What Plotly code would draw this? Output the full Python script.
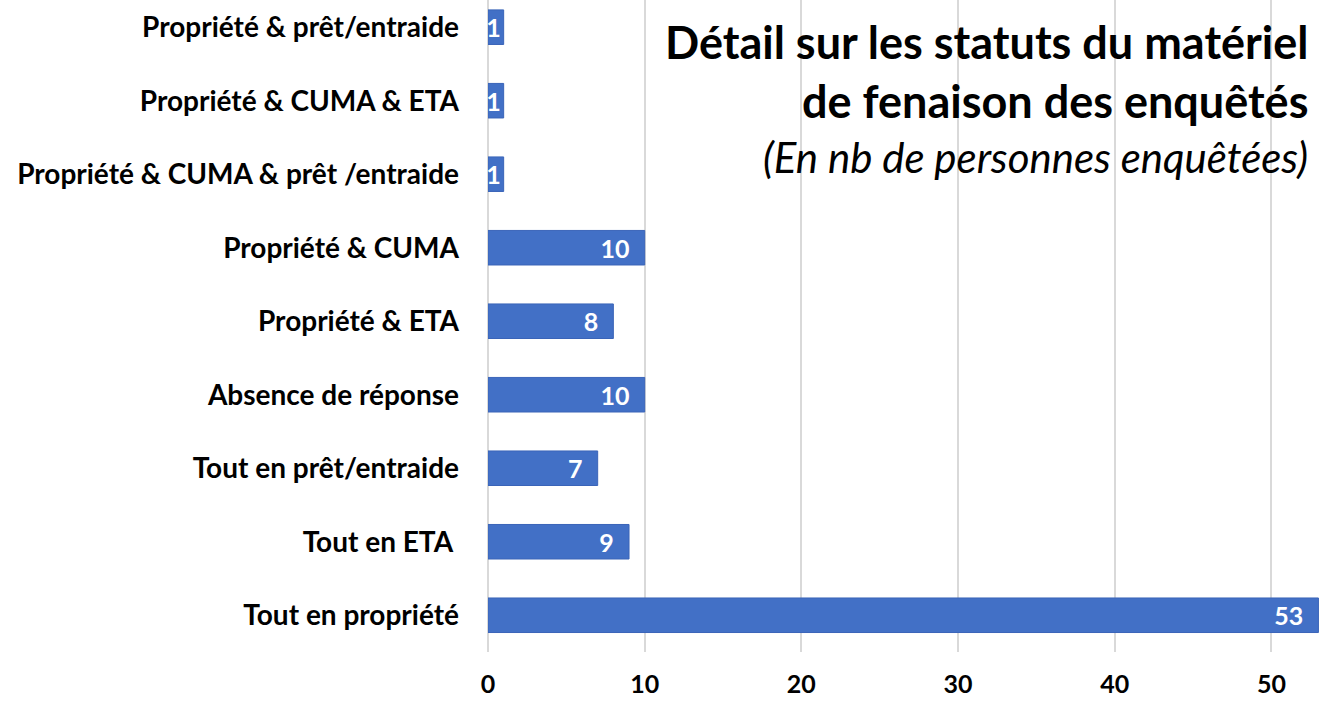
import plotly.graph_objects as go

categories = [
    "Tout en propriété",
    "Tout en ETA ",
    "Tout en prêt/entraide",
    "Absence de réponse",
    "Propriété & ETA",
    "Propriété & CUMA",
    "Propriété & CUMA & prêt /entraide",
    "Propriété & CUMA & ETA",
    "Propriété & prêt/entraide",
]
values = [53, 9, 7, 10, 8, 10, 1, 1, 1]
x_ticks = [0, 10, 20, 30, 40, 50]

FONT = "Lato"
labels = [f"{v}  " if v >= 5 else f"{v}" for v in values]

fig = go.Figure()
fig.add_trace(go.Bar(
    y=categories,
    x=values,
    orientation="h",
    width=0.47,
    marker=dict(color="#4270C6", line=dict(color="#3A64B8", width=1)),
    text=labels,
    textposition="inside",
    insidetextanchor="end",
    textangle=0,
    constraintext="none",
    textfont=dict(family=FONT, size=25, color="white", weight="bold"),
    cliponaxis=False,
    hoverinfo="x+y",
))

fig.add_annotation(
    xref="paper", yref="paper", x=0.988, y=0.98, xanchor="right", yanchor="top",
    align="right", showarrow=False,
    text="<b>Détail sur les statuts du matériel<br>de fenaison des enquêtés</b>",
    font=dict(family=FONT, size=45, color="black"),
)
fig.add_annotation(
    xref="paper", yref="paper", x=0.988, y=0.801, xanchor="right", yanchor="top",
    align="right", showarrow=False,
    text="<i>(En nb de personnes enquêtées)</i>",
    font=dict(family=FONT, size=42, color="black"),
)

fig.update_layout(
    width=1329, height=701,
    margin=dict(l=488, r=9, t=0, b=49),
    paper_bgcolor="white", plot_bgcolor="white",
    showlegend=False,
    xaxis=dict(
        range=[0, 53.1], tickvals=x_ticks, showgrid=True, gridcolor="#D9D9D9",
        gridwidth=1.5, zeroline=True, zerolinecolor="#D9D9D9", zerolinewidth=1.5,
        tickfont=dict(family=FONT, size=25, color="black", weight="bold"),
        ticklabelstandoff=15, ticks="", automargin=False,
    ),
    yaxis=dict(
        categoryorder="array", categoryarray=categories,
        range=[-0.5, 8.37], showgrid=False, ticks="", automargin=False,
        tickfont=dict(family=FONT, size=28, color="black", weight="bold"),
        ticklabelstandoff=28,
    ),
)

fig.write_html(
    "out.html",
    config={"displayModeBar": False},
    post_script="document.body.style.margin='0';document.body.style.overflow='hidden';",
)
